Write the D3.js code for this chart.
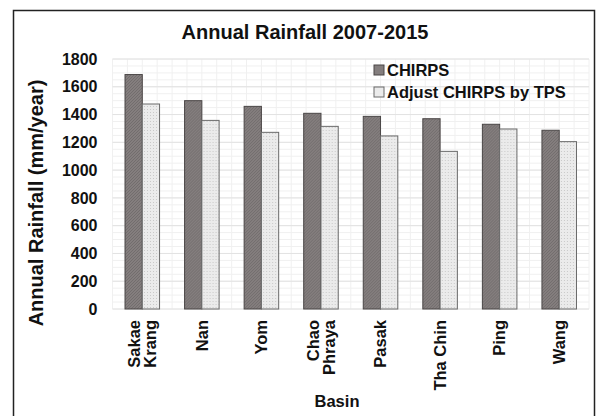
<!DOCTYPE html>
<html>
<head>
<meta charset="utf-8">
<script src="https://cdn.jsdelivr.net/npm/d3@7"></script>
<style>
  body { margin: 0; background: #fff; }
  text { font-family: "Liberation Sans", Arial, sans-serif; font-weight: bold; fill: #111; }
</style>
</head>
<body>
<div id="viz"></div>
<script>
// chart data
const basins = ["Sakae Krang", "Nan", "Yom", "Chao Phraya", "Pasak", "Tha Chin", "Ping", "Wang"];
const chirps = [1688, 1500, 1459, 1409, 1387, 1370, 1330, 1287];
const adjustTps = [1476, 1358, 1272, 1315, 1246, 1135, 1296, 1205];
const seriesNames = ["CHIRPS", "Adjust CHIRPS by TPS"];
const yTicks = [0, 200, 400, 600, 800, 1000, 1200, 1400, 1600, 1800];

const W = 596, H = 416;
const plot = { left: 112.5, right: 589, top: 59, bottom: 309 };

const svg = d3.select("#viz").append("svg")
    .attr("width", W)
    .attr("height", H);

// patterns for the bar fills
const defs = svg.append("defs");
const pDark = defs.append("pattern")
    .attr("id", "pDark").attr("width", 3).attr("height", 3)
    .attr("patternUnits", "userSpaceOnUse");
pDark.append("rect").attr("width", 3).attr("height", 3).attr("fill", "#847e7e");
pDark.append("path").attr("d", "M0,3L3,0").attr("stroke", "#6d6868").attr("stroke-width", 0.8);

const pLight = defs.append("pattern")
    .attr("id", "pLight").attr("width", 3).attr("height", 3)
    .attr("patternUnits", "userSpaceOnUse");
pLight.append("rect").attr("width", 3).attr("height", 3).attr("fill", "#ebebeb");
pLight.append("rect").attr("x", 1).attr("y", 1).attr("width", 1).attr("height", 1).attr("fill", "#c9c9c9");

// frame
svg.append("rect")
    .attr("x", 13.5).attr("y", 10.5)
    .attr("width", 581).attr("height", 420)
    .attr("fill", "none").attr("stroke", "#222").attr("stroke-width", 1.5);

// scales
const x0 = d3.scaleBand()
    .domain(basins)
    .range([plot.left, plot.right])
    .paddingInner(0.42)
    .paddingOuter(0.21);

const x1 = d3.scaleBand()
    .domain(seriesNames)
    .range([0, x0.bandwidth()]);

const y = d3.scaleLinear()
    .domain([0, 1800])
    .range([plot.bottom, plot.top]);

// grid: minor horizontal
const g = svg.append("g");
g.selectAll(".hmin")
    .data(d3.range(0, 1801, 50))
    .join("line")
    .attr("x1", plot.left).attr("x2", plot.right)
    .attr("y1", d => y(d)).attr("y2", d => y(d))
    .attr("stroke", "#f0f0f0").attr("stroke-width", 1);

// grid: vertical lines at band edges and quarter steps
const vx = [];
for (let i = 0; i <= basins.length * 4; i++) {
    vx.push(plot.left + i * (plot.right - plot.left) / (basins.length * 4));
}
g.selectAll(".vmin")
    .data(vx)
    .join("line")
    .attr("x1", d => d).attr("x2", d => d)
    .attr("y1", plot.top).attr("y2", plot.bottom)
    .attr("stroke", "#f0f0f0").attr("stroke-width", 1);

// grid: major horizontal
g.selectAll(".hmaj")
    .data(yTicks)
    .join("line")
    .attr("x1", plot.left).attr("x2", plot.right)
    .attr("y1", d => y(d)).attr("y2", d => y(d))
    .attr("stroke", "#e2e2e2").attr("stroke-width", 1);

// y axis ticks
const yAxis = d3.axisLeft(y).tickValues(yTicks).tickFormat(d3.format("d")).tickSize(0).tickPadding(0);
const ya = svg.append("g")
    .attr("transform", `translate(${plot.left - 15},0)`)
    .call(yAxis);
ya.select(".domain").remove();
ya.selectAll("text")
    .attr("font-size", 16)
    .attr("font-family", "Liberation Sans, Arial, sans-serif")
    .attr("font-weight", "bold")
    .attr("fill", "#111");

// bars
const groups = svg.append("g").selectAll("g")
    .data(basins.map((b, i) => ({ basin: b, vals: [chirps[i], adjustTps[i]] })))
    .join("g")
    .attr("transform", d => `translate(${x0(d.basin)},0)`);

groups.selectAll("rect")
    .data(d => d.vals.map((v, j) => ({ key: seriesNames[j], v: v })))
    .join("rect")
    .attr("x", d => x1(d.key))
    .attr("y", d => y(d.v))
    .attr("width", x1.bandwidth())
    .attr("height", d => y(0) - y(d.v))
    .attr("fill", d => d.key === seriesNames[0] ? "url(#pDark)" : "url(#pLight)")
    .attr("stroke", d => d.key === seriesNames[0] ? "#4a4646" : "#6a6a6a")
    .attr("stroke-width", 1);

// x tick labels, rotated
const xl = svg.append("g").selectAll("text")
    .data(basins)
    .join("text")
    .attr("transform", d => `translate(${x0(d) + x0.bandwidth() / 2},320) rotate(-90)`)
    .attr("text-anchor", "end")
    .attr("font-size", 16.5);
xl.each(function (d) {
    const parts = d === "Tha Chin" ? [d] : d.split(" ");
    const el = d3.select(this);
    const lh = 16;
    parts.forEach((p, k) => {
        el.append("tspan")
            .attr("x", 0)
            .attr("y", (k - (parts.length - 1) / 2) * lh)
            .attr("dy", "0.35em")
            .text(p);
    });
});

// title
svg.append("text")
    .attr("x", 305).attr("y", 39)
    .attr("text-anchor", "middle")
    .attr("font-size", 20)
    .text("Annual Rainfall 2007-2015");

// y label
svg.append("text")
    .attr("transform", `translate(43,203) rotate(-90)`)
    .attr("text-anchor", "middle")
    .attr("font-size", 20)
    .text("Annual Rainfall (mm/year)");

// x label
svg.append("text")
    .attr("x", 337).attr("y", 407)
    .attr("text-anchor", "middle")
    .attr("font-size", 16.5)
    .text("Basin");

// legend
const leg = svg.append("g").attr("transform", "translate(374,62)");
const li = leg.selectAll("g")
    .data(seriesNames)
    .join("g")
    .attr("transform", (d, i) => `translate(0,${i * 22})`);
li.append("rect")
    .attr("x", 0).attr("y", 3)
    .attr("width", 10).attr("height", 10)
    .attr("fill", (d, i) => i === 0 ? "#847e7e" : "#ebebeb")
    .attr("stroke", (d, i) => i === 0 ? "#4a4646" : "#6a6a6a");
li.append("text")
    .attr("x", 13).attr("y", 14)
    .attr("font-size", 16.5)
    .text(d => d);
</script>
</body>
</html>
